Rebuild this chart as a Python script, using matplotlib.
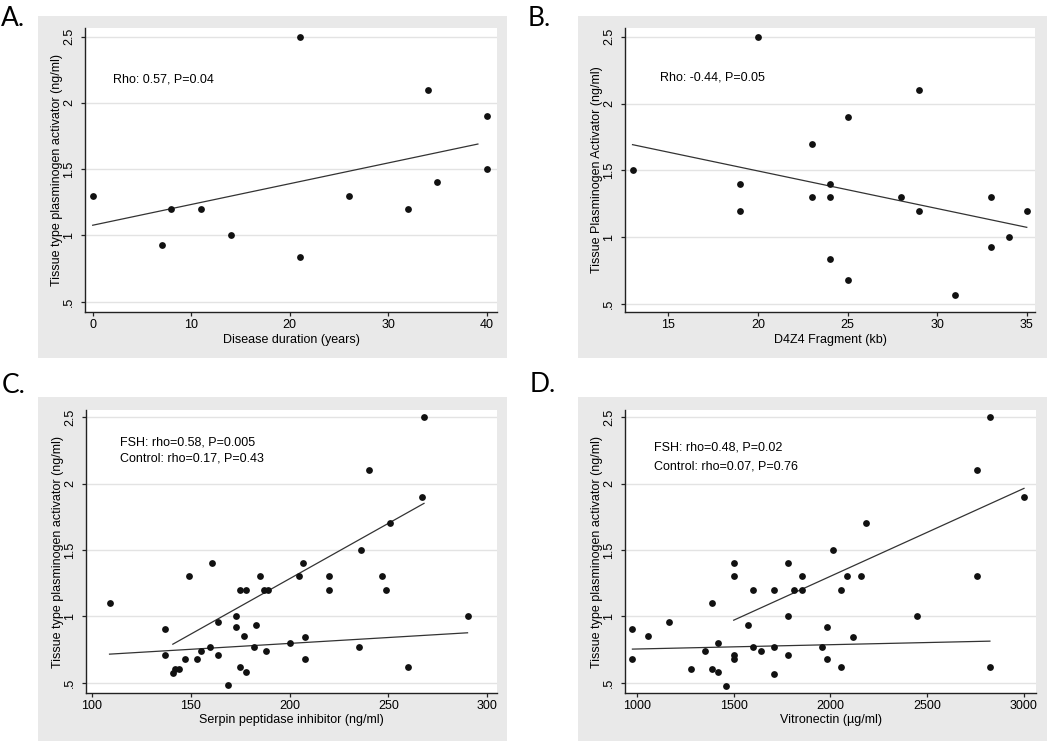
import numpy as np
import matplotlib
matplotlib.use("Agg")
import matplotlib.pyplot as plt
from matplotlib.patches import Rectangle

plt.rcParams['font.family'] = ['Liberation Sans', 'DejaVu Sans']

# ---- panel A: disease duration ----
dur_x = [0, 7, 8, 11, 14, 21, 21, 26, 32, 34, 35, 40, 40]
dur_y = [1.3, 0.93, 1.2, 1.2, 1.0, 2.5, 0.84, 1.3, 1.2, 2.1, 1.4, 1.9, 1.5]
dur_fit_x = [0, 39.1]
dur_fit_y = [1.077, 1.69]

# ---- panel B: D4Z4 fragment ----
d4z4_x = [13, 19, 19, 20, 23, 23, 24, 24, 24, 25, 25, 28, 29, 29, 31, 33, 33, 34, 35]
d4z4_y = [1.5, 1.4, 1.2, 2.5, 1.7, 1.3, 1.4, 1.3, 0.84, 1.9, 0.68, 1.3, 2.1, 1.2,
          0.57, 1.3, 0.93, 1.0, 1.2]
d4z4_fit_x = [13, 35]
d4z4_fit_y = [1.693, 1.075]

# ---- panel C: serpin peptidase inhibitor ----
serpin_x = [109, 137, 137, 141, 142, 144, 147, 149, 153, 155, 160, 161, 164, 164,
            169, 173, 173, 175, 175, 177, 178, 178, 182, 183, 185, 187, 188, 189,
            200, 205, 207, 208, 208, 220, 220, 235, 236, 240, 247, 249, 251, 260,
            267, 268, 290]
serpin_y = [1.1, 0.9, 0.71, 0.57, 0.6, 0.6, 0.68, 1.3, 0.68, 0.74, 0.77, 1.4, 0.96,
            0.71, 0.48, 1.0, 0.92, 1.2, 0.62, 0.85, 1.2, 0.58, 0.77, 0.93, 1.3, 1.2,
            0.74, 1.2, 0.8, 1.3, 1.4, 0.84, 0.68, 1.3, 1.2, 0.77, 1.5, 2.1, 1.3, 1.2,
            1.7, 0.62, 1.9, 2.5, 1.0]
serpin_fsh_fit_x = [141, 268]
serpin_fsh_fit_y = [0.789, 1.851]
serpin_ctl_fit_x = [109, 290]
serpin_ctl_fit_y = [0.714, 0.875]

# ---- panel D: vitronectin ----
vitro_x = [978, 978, 1058, 1169, 1279, 1353, 1391, 1391, 1420, 1420, 1460, 1501,
           1501, 1501, 1501, 1573, 1602, 1602, 1642, 1711, 1711, 1711, 1783, 1783,
           1783, 1814, 1852, 1852, 1955, 1985, 1985, 2015, 2055, 2055, 2086, 2119,
           2157, 2186, 2449, 2759, 2759, 2824, 2824, 3000]
vitro_y = [0.9, 0.68, 0.85, 0.96, 0.6, 0.74, 1.1, 0.6, 0.8, 0.58, 0.477, 1.4, 1.3,
           0.71, 0.68, 0.93, 1.2, 0.77, 0.74, 1.2, 0.77, 0.568, 1.4, 1.0, 0.706, 1.2,
           1.3, 1.2, 0.77, 0.92, 0.68, 1.5, 1.2, 0.62, 1.3, 0.84, 1.3, 1.7, 1.0, 2.1,
           1.3, 2.5, 0.62, 1.9]
vitro_fsh_fit_x = [1501, 3000]
vitro_fsh_fit_y = [0.97, 1.964]
vitro_ctl_fit_x = [978, 2824]
vitro_ctl_fit_y = [0.752, 0.812]

y_ticks = [0.5, 1, 1.5, 2, 2.5]
y_ticklabels = ['.5', '1', '1.5', '2', '2.5']

W, H = 1050, 741
fig = plt.figure(figsize=(W / 100, H / 100), dpi=100)


def px_box(x0, y0, x1, y1):
    """pixel box (top-left origin) -> figure fraction rect"""
    return [x0 / W, 1 - y1 / H, (x1 - x0) / W, (y1 - y0) / H]


def make_panel(letter, grey, axbox, xlim, ylim, xticks, xlabel, ylabel,
               letter_pos):
    bx = fig.add_axes(px_box(*grey))
    bx.add_patch(Rectangle((0, 0), 1, 1, color='#e9e9e9', transform=bx.transAxes))
    bx.axis('off')
    fig.text(letter_pos[0] / W, 1 - letter_pos[1] / H, letter, fontsize=19,
             family=['Lato', 'DejaVu Sans'], ha='left', va='baseline')

    ax = fig.add_axes(px_box(*axbox))
    ax.set_facecolor('white')
    ax.set_xlim(*xlim)
    ax.set_ylim(*ylim)
    for s in ['top', 'right']:
        ax.spines[s].set_visible(False)
    for s in ['left', 'bottom']:
        ax.spines[s].set_color('#222222')
        ax.spines[s].set_linewidth(1.0)
    ax.set_xticks(xticks)
    ax.set_yticks(y_ticks)
    ax.set_yticklabels(y_ticklabels)
    ax.tick_params(axis='both', length=3, width=0.9, color='#222222',
                   labelsize=9, pad=2)
    ax.tick_params(axis='y', labelrotation=90, pad=4)
    for lab in ax.get_yticklabels():
        lab.set_va('center')
    ax.grid(axis='y', color='#e3e3e3', linewidth=1.0)
    ax.set_axisbelow(True)
    ax.set_xlabel(xlabel, fontsize=9)
    ax.xaxis.set_label_coords(0.5, -0.097)
    ax.xaxis.label.set_va('center')
    ax.set_ylabel(ylabel, fontsize=9)
    ax.yaxis.set_label_coords(-0.068, 0.5)
    ax.yaxis.label.set_va('center')
    return ax


def dots(ax, x, y):
    ax.scatter(x, y, s=24, color='#111111', zorder=3, linewidths=0)


def fit(ax, x, y):
    ax.plot(x, y, color='#333333', linewidth=0.9, zorder=2)


# A
ax = make_panel('A.', (38, 16, 507, 358), (85, 28, 497, 312), (-0.78, 41.04),
                (0.422, 2.566), [0, 10, 20, 30, 40], 'Disease duration (years)',
                'Tissue type plasminogen activator (ng/ml)', (1, 26))
fit(ax, dur_fit_x, dur_fit_y)
dots(ax, dur_x, dur_y)
ax.text(2.06, 2.18, 'Rho: 0.57, P=0.04', fontsize=9, va='center', ha='left')

# B
ax = make_panel('B.', (578, 16, 1047, 358), (625, 28, 1035, 312), (12.58, 35.46),
                (0.442, 2.565), [15, 20, 25, 30, 35], 'D4Z4 Fragment (kb)',
                'Tissue Plasminogen Activator (ng/ml)', (528, 26))
fit(ax, d4z4_fit_x, d4z4_fit_y)
dots(ax, d4z4_x, d4z4_y)
ax.text(14.54, 2.197, 'Rho: -0.44, P=0.05', fontsize=9, va='center', ha='left')

# C
ax = make_panel('C.', (38, 397, 507, 741), (86, 410, 497, 693), (97.1, 304.9),
                (0.421, 2.555), [100, 150, 200, 250, 300],
                'Serpin peptidase inhibitor (ng/ml)',
                'Tissue type plasminogen activator (ng/ml)', (2, 393))
fit(ax, serpin_fsh_fit_x, serpin_fsh_fit_y)
fit(ax, serpin_ctl_fit_x, serpin_ctl_fit_y)
dots(ax, serpin_x, serpin_y)
ax.text(114.3, 2.31, 'FSH: rho=0.58, P=0.005', fontsize=9, va='center', ha='left')
ax.text(114.3, 2.188, 'Control: rho=0.17, P=0.43', fontsize=9, va='center', ha='left')

# D
ax = make_panel('D.', (578, 397, 1047, 741), (625, 410, 1036, 693), (939.6, 3062),
                (0.421, 2.555), [1000, 1500, 2000, 2500, 3000],
                'Vitronectin (\u00b5g/ml)',
                'Tissue type plasminogen activator (ng/ml)', (530, 392))
fit(ax, vitro_fsh_fit_x, vitro_fsh_fit_y)
fit(ax, vitro_ctl_fit_x, vitro_ctl_fit_y)
dots(ax, vitro_x, vitro_y)
ax.text(1089, 2.274, 'FSH: rho=0.48, P=0.02', fontsize=9, va='center', ha='left')
ax.text(1089, 2.13, 'Control: rho=0.07, P=0.76', fontsize=9, va='center', ha='left')

fig.savefig('out.png', dpi=100)
